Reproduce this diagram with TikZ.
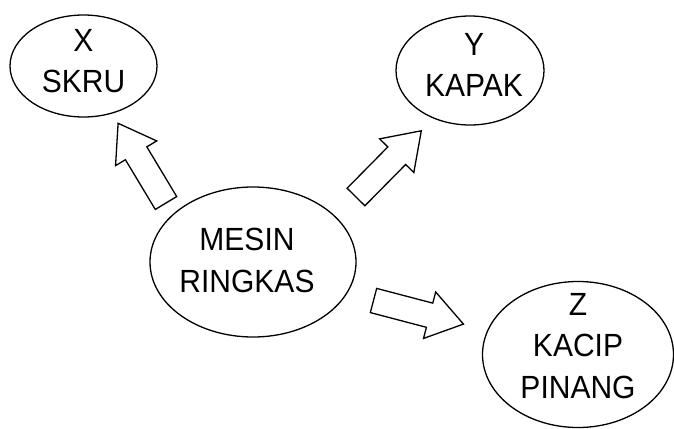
\documentclass[tikz,border=0pt]{standalone}
\usepackage{fontspec}
\setmainfont{Liberation Sans}
\usetikzlibrary{shapes.geometric}
\tikzset{
  bubble/.style={draw=black, line width=1.3pt, ellipse, inner sep=0pt},
  txt/.style={align=center, inner sep=0pt, font=\fontsize{30}{39}\selectfont, yscale=1.07, transform shape},
  blockarrow/.style={draw=black, line width=1.3pt, fill=white, line join=miter}
}
\newcommand\blkarrow[3]{% tail coordinate, angle, name
  \begin{scope}[shift={(#1)}, rotate=#2]
    \draw[blockarrow] (0,12.5) -- (58,12.5) -- (58,24) -- (93,0) -- (58,-24) -- (58,-12.5) -- (0,-12.5) -- cycle;
  \end{scope}}
\begin{document}
\begin{tikzpicture}[x=1pt, y=-1pt]
\useasboundingbox (0,0) rectangle (674,428);
\fill[white] (0,0) rectangle (674,428);
% ellipses
\node[bubble, minimum width=147, minimum height=102] (x) at (83.5,66) {};
\node[bubble, minimum width=148, minimum height=109] (y) at (470,70.5) {};
\node[bubble, minimum width=206, minimum height=150] (m) at (253,262) {};
\node[bubble, minimum width=191, minimum height=146] (z) at (578,354.5) {};
% texts
\node[txt] (xt) at (83.5,61) {X\\SKRU};
\node[txt] (yt) at (474,65) {Y\\KAPAK};
\node[txt] (mt) at (247,260.5) {MESIN\\RINGKAS};
\node[txt] (zt) at (578,346) {Z\\KACIP\\PINANG};
% arrows
\coordinate (a1) at (166,203);
\coordinate (a2) at (356,197);
\coordinate (a3) at (373.5,300.5);
\blkarrow{a1}{121}{ax}
\blkarrow{a2}{45.4}{ay}
\blkarrow{a3}{-14.7}{az}
\end{tikzpicture}
\end{document}
